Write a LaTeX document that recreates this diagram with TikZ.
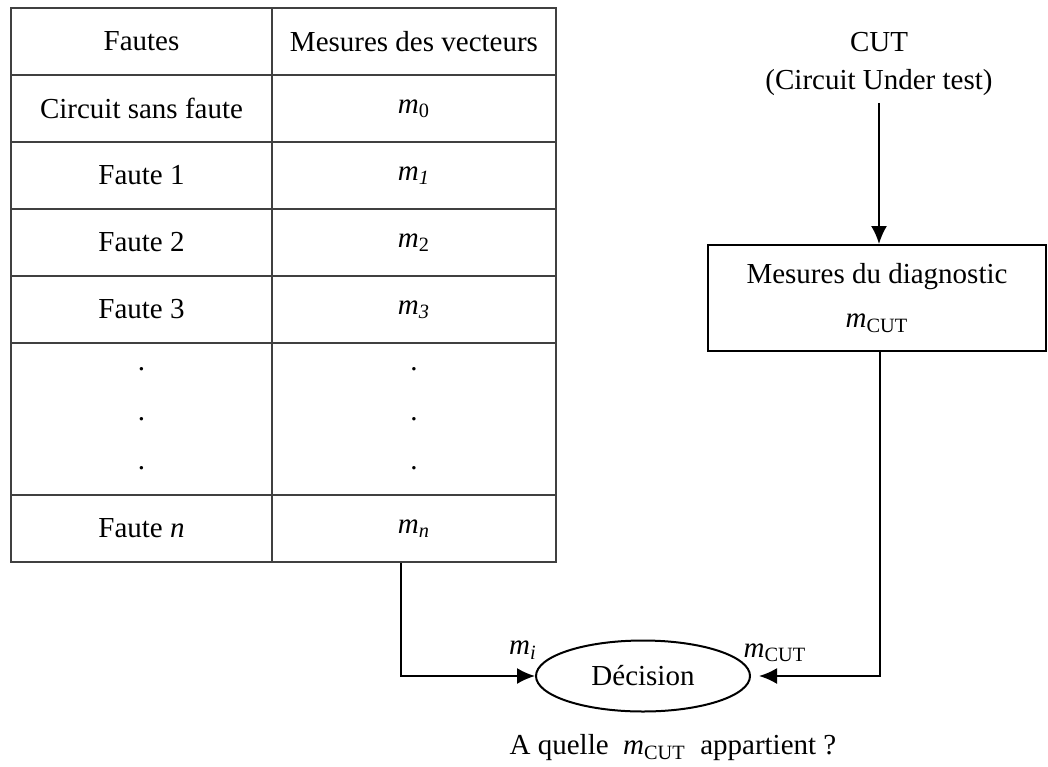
\documentclass[tikz,border=0pt]{standalone}
\usepackage{fontspec}
\setmainfont{Liberation Serif}
\usetikzlibrary{arrows.meta,shapes.geometric,positioning}
\newcommand{\msub}[1]{\textit{m}\textsubscript{#1}}
\tikzset{
  cell/.style={draw=black!75, line width=0.75pt, minimum height=33.5pt, inner sep=0pt, align=center},
  faultcol/.style={cell, minimum width=130.5pt},
  vectcol/.style={cell, minimum width=142pt},
  dotrow/.style={minimum height=76pt, font=\fontsize{14.5}{24.8}\selectfont},
  flow/.style={line width=1pt, -{Latex[length=9pt,width=8pt]}},
}

\begin{document}
\begin{tikzpicture}[x=0.5pt,y=-0.5pt,font=\fontsize{14.5}{17.4}\selectfont]
\useasboundingbox (0,0) rectangle (1048,766);

% table of the faults and their vectors
\node[faultcol] (fhead) at (141.5,41.5) {Fautes};
\node[vectcol] (vhead) at (414,41.5) {Mesures des vecteurs};

\node[faultcol] (f0) at (141.5,108.5) {Circuit sans faute};
\node[vectcol] (v0) at (414,108.5) {\msub{0}};

\node[faultcol] (f1) at (141.5,175.5) {Faute 1};
\node[vectcol] (v1) at (414,175.5) {\msub{\textit{1}}};

\node[faultcol] (f2) at (141.5,242.5) {Faute 2};
\node[vectcol] (v2) at (414,242.5) {\msub{2}};

\node[faultcol] (f3) at (141.5,309.5) {Faute 3};
\node[vectcol] (v3) at (414,309.5) {\msub{\textit{3}}};

\node[faultcol, dotrow] (fdots) at (141.5,419) {.\\.\\.};
\node[vectcol, dotrow] (vdots) at (414,419) {.\\.\\.};

\node[faultcol] (fn) at (141.5,528.5) {Faute \textit{n}};
\node[vectcol] (vn) at (414,528.5) {\msub{\textit{n}}};

% circuit under test
\node[align=center, font=\fontsize{14.5}{19}\selectfont] (cut) at (879,64) {CUT\\(Circuit Under test)};
\node[draw, line width=1pt, minimum width=169pt, minimum height=53pt, align=center,
      font=\fontsize{14.5}{22}\selectfont] (diag) at (877,298) {Mesures du diagnostic\\\msub{CUT}};

% decision
\node[draw, ellipse, line width=1pt, minimum width=107pt, minimum height=35.5pt, inner sep=0pt] (dec) at (643,676) {Décision};
\node (milbl) at (523,650) {\msub{\textit{i}}};
\node (mcutlbl) at (775,653) {\msub{CUT}};
\node (question) at (673,748) {A quelle~ \msub{CUT}~ appartient ?};

\draw[flow] (cut) -- (cut |- diag.north);
\draw[flow] ([xshift=-6.5pt]vn.south) |- (dec.west);
\draw[flow] ([xshift=1.5pt]diag.south) |- ([xshift=4pt]dec.east);

\end{tikzpicture}
\end{document}
